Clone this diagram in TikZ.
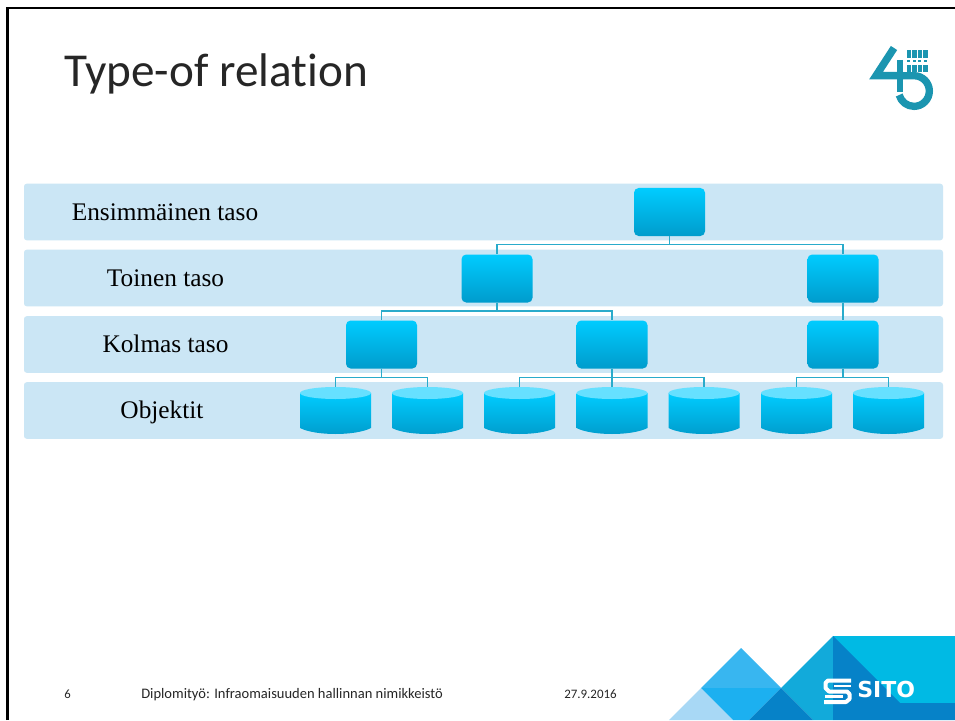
\documentclass[tikz,border=0pt]{standalone}
\usepackage{fontspec}
\setmainfont{Liberation Serif}
\newfontfamily\carl[Ligatures=NoCommon]{Carlito}
\newfontfamily\logofont{DejaVu Sans}
\definecolor{bandc}{HTML}{CBE6F5}
\definecolor{linec}{HTML}{29ABCB}
\definecolor{topc}{HTML}{00CCFF}
\definecolor{botc}{HTML}{009CCC}
\definecolor{lidc}{HTML}{66E0FF}
\definecolor{teal45}{HTML}{1B95B0}
\definecolor{c1a}{RGB}{168,216,245}
\definecolor{c2a}{RGB}{56,182,240}
\definecolor{c3a}{RGB}{28,176,240}
\definecolor{c4a}{RGB}{0,186,228}
\definecolor{c5a}{RGB}{18,170,218}
\definecolor{c6a}{RGB}{6,130,200}
\tikzset{
  band/.style={fill=bandc,rounded corners=2pt,minimum width=689.25pt,minimum height=42.4pt,inner sep=0pt},
  rbox/.style={top color=topc,bottom color=botc,rounded corners=3.5pt,minimum width=53.25pt,minimum height=36pt,inner sep=0pt},
  cylbox/.style={minimum width=53.25pt,minimum height=35.25pt,inner sep=0pt},
  lab/.style={font=\fontsize{19}{21}\selectfont,inner sep=0pt,text=black,anchor=base},
  foot/.style={font=\carl\fontsize{10.9}{12}\selectfont,inner sep=0pt,anchor=base west,text=black!85},
  conn/.style={draw=linec,line width=0.9pt},
  lidfill/.style={fill=lidc}
}
\newcommand{\cyl}[2]{%
  \node[cylbox] (#1) at (#2,410.5) {};
  \shade[top color=topc,bottom color=botc] (#2-35.5,393) -- (#2-35.5,428) .. controls (#2-20,436) and (#2+20,436) .. (#2+35.5,428) -- (#2+35.5,393) -- cycle;
  \fill[lidfill] (#2,393) ellipse[x radius=35.5,y radius=6];
}
\begin{document}
\begin{tikzpicture}[x=0.75pt,y=-0.75pt]
\useasboundingbox (0,0) rectangle (955,720);
\fill[white] (0,0) rectangle (955,720);
\draw[black,line width=1.6pt] (7.5,720) -- (7.5,8) -- (955,8);
\node[anchor=base west,inner sep=0pt,font=\carl\fontsize{35.4}{38}\selectfont,text=black!85] (title) at (64,87) {Type-of relation};
% bands
\node[band] (b1) at (483.5,212) {};
\node[band] (b2) at (483.5,278) {};
\node[band] (b3) at (483.5,344.5) {};
\node[band] (b4) at (483.5,410.5) {};
\node[lab] (l1) at (165,220.5) {Ensimmäinen taso};
\node[lab] (l2) at (165.5,286.5) {Toinen taso};
\node[lab] (l3) at (165.5,352.5) {Kolmas taso};
\node[lab] (l4) at (162,418.5) {Objektit};
% junctions
\coordinate (j1) at (669.5,244.5);
\coordinate (j2a) at (497,311);
\coordinate (j3a) at (381.5,377.5);
\coordinate (j3b) at (612,377.5);
\coordinate (j3c) at (843,377.5);
% boxes
\node[rbox] (t) at (669.5,212) {};
\node[rbox] (s1) at (497,278.5) {};
\node[rbox] (s2) at (843,278.5) {};
\node[rbox] (k1) at (381.5,344.5) {};
\node[rbox] (k2) at (612,344.5) {};
\node[rbox] (k3) at (843,344.5) {};
\draw[conn] (t.south) -- (j1);
\draw[conn] (s1.north) |- (j1) -| (s2.north);
\draw[conn] (s1.south) -- (j2a);
\draw[conn] (s2.south) -- (k3.north);
\draw[conn] (k1.north) |- (j2a) -| (k2.north);
\draw[conn] (k1.south) -- (j3a);
\draw[conn] (k3.south) -- (j3c);
\cyl{c1}{335.5}
\cyl{c2}{427.5}
\cyl{c3}{519.5}
\cyl{c4}{612}
\cyl{c5}{704}
\cyl{c6}{796.5}
\cyl{c7}{888.5}
\draw[conn] (c1.north) |- (j3a) -| (c2.north);
\draw[conn] (c3.north) |- (j3b) -| (c5.north);
\draw[conn] (k2.south) -- (c4.north);
\draw[conn] (c6.north) |- (j3c) -| (c7.north);
% footer
\node[foot,font=\carl\fontsize{9.5}{12}\selectfont] (f1) at (64,698) {6};
\node[foot] (f2) at (141,698) {Diplomityö: Infraomaisuuden hallinnan nimikkeistö};
\node[foot,font=\carl\fontsize{9.7}{12}\selectfont] (f3) at (564,698) {27.9.2016};
% corner graphic
\fill[c1a] (701,688) -- (669,720) -- (733,720) -- cycle;
\fill[c2a] (741,648) -- (701,688) -- (781,688) -- cycle;
\fill[c3a] (701,688) -- (781,688) -- (749,720) -- (733,720) -- cycle;
\fill[c4a] (833,636) -- (955,636) -- (955,720) -- (833,720) -- cycle;
\fill[c5a] (833,636) -- (781,688) -- (813,720) -- (833,720) -- cycle;
\fill[c6a] (781,688) -- (749,720) -- (813,720) -- cycle;
\fill[c6a] (833,636) -- (900,703) -- (955,703) -- (955,720) -- (833,720) -- cycle;
% SITO mark
\draw[white,line width=3pt,line join=round] (851,680.5) -- (828,680.5) -- (825.5,683) -- (825.5,688) -- (829,691.5) -- (847,691.5) -- (849.5,694) -- (849.5,699) -- (846,702) -- (824,702);
\draw[white,line width=2.2pt] (851,686) -- (834,686);
\draw[white,line width=2.2pt] (825,696.5) -- (843,696.5);
\node[inner sep=0pt,anchor=base west,text=white,font=\logofont\bfseries\fontsize{16.5}{18}\selectfont] (sito) at (857,697.5) {SITO};
% 45 logo
\draw[teal45,line width=5.6pt,line join=miter] (894,48) -- (876,75.7) -- (903,75.7);
\draw[teal45,line width=5pt] (900,60) -- (900,92);
\draw[teal45,line width=5.5pt] (900,75.7) -- (914,75.7) arc[radius=11.5pt,start angle=90,end angle=-165];
\foreach \xx/\ww in {906.5/4.5,912/4.5,917.5/4.5,923/5}{
  \fill[teal45] (\xx,50) rectangle (\xx+\ww,58.5);
  \fill[teal45] (\xx+0.5,60) rectangle (\xx+\ww-1,62);
  \fill[teal45] (\xx,65) rectangle (\xx+\ww,72);}
\end{tikzpicture}
\end{document}
